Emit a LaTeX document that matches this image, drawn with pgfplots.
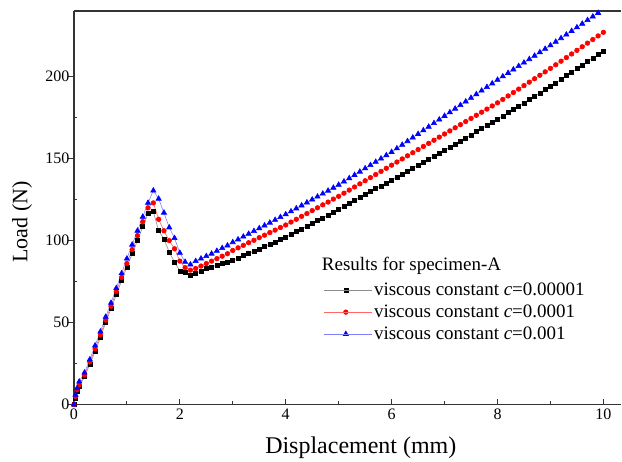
\documentclass[border=0pt]{standalone}
\usepackage{fontspec}
\setmainfont{Liberation Serif}
\usepackage{pgfplots}
\pgfplotsset{compat=1.18}

% load-displacement curves
\pgfplotstableread{
x     y
0     0
0.03  4
0.06  8
0.1   11
0.2   17
0.3   24.5
0.4   32.5
0.5   41
0.6   50
0.7   58.5
0.8   67
0.9   75.5
1.0   84
1.1   92
1.2   100
1.3   108.5
1.4   116.5
1.5   117.7
1.6   106
1.7   101
1.8   93
1.9   87
2.0   81.5
2.1   80.5
2.2   78.6
2.3   80
2.4   81.5
2.5   83
2.6   84
2.7   85
2.8   86
2.9   87
3.0   88
3.1   89.4
3.2   90.8
3.3   92.2
3.4   93.6
3.5   95.0
3.6   96.4
3.7   97.8
3.8   99.2
3.9   100.6
4.0   102.0
4.1   103.7
4.2   105.4
4.3   107.1
4.4   108.8
4.5   110.5
4.6   112.2
4.7   113.9
4.8   115.6
4.9   117.3
5.0   119.0
5.1   120.8
5.2   122.6
5.3   124.4
5.4   126.2
5.5   128.0
5.6   129.8
5.7   131.6
5.8   133.4
5.9   135.2
6.0   137.0
6.1   138.8
6.2   140.6
6.3   142.4
6.4   144.2
6.5   146.0
6.6   147.8
6.7   149.6
6.8   151.4
6.9   153.2
7.0   155.0
7.1   156.9
7.2   158.8
7.3   160.7
7.4   162.6
7.5   164.5
7.6   166.4
7.7   168.3
7.8   170.2
7.9   172.1
8.0   174.0
8.1   176
8.2   178
8.3   180
8.4   182
8.5   184
8.6   186
8.7   188
8.8   190
8.9   192
9.0   194
9.1   196.2
9.2   198.3
9.3   200.5
9.4   202.6
9.5   204.8
9.6   206.9
9.7   209.1
9.8   211.2
9.9   213.4
10.0  215.5
}\dataA

\pgfplotstableread{
x     y
0     0
0.03  5
0.06  9
0.1   12
0.2   18
0.3   26
0.4   34
0.5   42.5
0.6   51.5
0.7   60
0.8   69
0.9   77.5
1.0   86
1.1   94.5
1.2   103
1.3   111.5
1.4   120
1.5   123
1.6   113
1.7   106
1.8   100
1.9   95
2.0   87.5
2.1   83.5
2.2   82
2.3   83
2.4   84.5
2.5   86
2.6   87.5
2.7   89
2.8   90.5
2.9   92
3.0   94
3.1   95.6
3.2   97.1
3.3   98.7
3.4   100.2
3.5   101.8
3.6   103.3
3.7   104.9
3.8   106.4
3.9   108
4.0   109.5
4.1   111.3
4.2   113
4.3   114.8
4.4   116.5
4.5   118.3
4.6   120
4.7   121.8
4.8   123.5
4.9   125.3
5.0   127
5.1   128.9
5.2   130.8
5.3   132.7
5.4   134.6
5.5   136.5
5.6   138.4
5.7   140.3
5.8   142.2
5.9   144.1
6.0   146
6.1   147.9
6.2   149.8
6.3   151.7
6.4   153.6
6.5   155.5
6.6   157.4
6.7   159.3
6.8   161.2
6.9   163.1
7.0   165
7.1   166.9
7.2   168.8
7.3   170.7
7.4   172.6
7.5   174.5
7.6   176.4
7.7   178.3
7.8   180.2
7.9   182.1
8.0   184
8.1   186.1
8.2   188.2
8.3   190.3
8.4   192.4
8.5   194.5
8.6   196.6
8.7   198.7
8.8   200.8
8.9   202.9
9.0   205
9.1   207.2
9.2   209.4
9.3   211.6
9.4   213.8
9.5   216
9.6   218.2
9.7   220.4
9.8   222.6
9.9   224.8
10.0  227
}\dataB

\pgfplotstableread{
x     y
0     0
0.03  6
0.06  10
0.1   14
0.2   19.5
0.3   27.5
0.4   36
0.5   44.5
0.6   53.5
0.7   62
0.8   71
0.9   80
1.0   89
1.1   97.5
1.2   106
1.3   114.5
1.4   123
1.5   130.5
1.6   125.5
1.7   117
1.8   108
1.9   101.5
2.0   92.5
2.1   87
2.2   85.4
2.3   87.5
2.4   89
2.5   90.5
2.6   92
2.7   93.7
2.8   95.4
2.9   97
3.0   99
3.1   100.7
3.2   102.4
3.3   104.1
3.4   105.8
3.5   107.5
3.6   109.2
3.7   110.9
3.8   112.6
3.9   114.3
4.0   116
4.1   117.8
4.2   119.6
4.3   121.4
4.4   123.2
4.5   125
4.6   126.8
4.7   128.6
4.8   130.4
4.9   132.2
5.0   134
5.1   136
5.2   138
5.3   140
5.4   142
5.5   144
5.6   146
5.7   148
5.8   150
5.9   152
6.0   154
6.1   156.2
6.2   158.4
6.3   160.6
6.4   162.8
6.5   165
6.6   167.2
6.7   169.4
6.8   171.6
6.9   173.8
7.0   176
7.1   178.2
7.2   180.4
7.3   182.6
7.4   184.8
7.5   187
7.6   189.2
7.7   191.4
7.8   193.6
7.9   195.8
8.0   198
8.1   200.1
8.2   202.2
8.3   204.3
8.4   206.4
8.5   208.5
8.6   210.6
8.7   212.7
8.8   214.8
8.9   216.9
9.0   219
9.1   221.2
9.2   223.4
9.3   225.6
9.4   227.8
9.5   230
9.6   232.2
9.7   234.4
9.8   236.6
9.9   238.8
10.0  241
}\dataC

\begin{document}
\begin{tikzpicture}
\begin{axis}[
    name=ax,
    scale only axis,
    width=548pt,
    height=394pt,
    xmin=0, xmax=10.34,
    ymin=0, ymax=240,
    axis lines*=left,
    axis line style={line width=1.2pt, black!80},
    xtick={0,2,...,10},
    ytick={0,50,...,200},
    minor x tick num=1,
    minor y tick num=1,
    tick align=inside,
    major tick length=6pt,
    minor tick length=3.5pt,
    tick style={line width=0.8pt, black!80},
    every major y tick/.append style={xshift=-6pt},
    /pgf/number format/assume math mode=true,
    tick label style={font=\fontsize{16}{16}\selectfont},
    yticklabel style={xshift=-1pt},
    xticklabel style={yshift=-1pt},
    xlabel={Displacement (mm)},
    ylabel={Load (N)},
    every axis x label/.style={at={(rel axis cs:0.524,0)}, yshift=-43pt, anchor=center,
                               font=\fontsize{24}{24}\selectfont},
    every axis y label/.style={at={(rel axis cs:0,0.464)}, xshift=-52pt, rotate=90, anchor=center,
                               font=\fontsize{22}{22}\selectfont},
    legend style={draw=none, fill=none, at={(rel axis cs:0.451,0.318)}, anchor=north west,
                  font=\fontsize{19}{19}\selectfont, row sep=4.8pt,
                  nodes={inner sep=1.5pt}},
    legend cell align=left,
    legend image code/.code={
        \draw[mark repeat=2, mark phase=2, #1] plot coordinates {(0pt,0pt) (21.5pt,0pt) (43pt,0pt)};
        \path (0pt,0pt) -- (48pt,0pt);
    },
]
\addplot[gray!90, line width=0.6pt, mark=square*, mark size=2.0pt,
         mark options={fill=black, draw=black, solid}] table {\dataA};
\addlegendentry{viscous constant \textit{c}=0.00001}
\addplot[red!60, line width=0.6pt, mark=*, mark size=2.3pt,
         mark options={fill=red, draw=red, solid}] table {\dataB};
\addlegendentry{viscous constant \textit{c}=0.0001}
\addplot[blue!50, line width=0.6pt, mark=triangle*, mark size=3.0pt,
         mark options={fill=blue, draw=blue, solid}] table {\dataC};
\addlegendentry{viscous constant \textit{c}=0.001}
\draw[line width=1.2pt, black!80] (rel axis cs:0,1) -- (rel axis cs:1,1);
\node[anchor=west, font=\fontsize{19}{19}\selectfont, inner sep=0pt]
     at (rel axis cs:0.4526,0.352) {Results for specimen-A};
\end{axis}
\path ([xshift=-74pt,yshift=-57pt]ax.south west) ([yshift=11pt]ax.north east);
\end{tikzpicture}
\end{document}
